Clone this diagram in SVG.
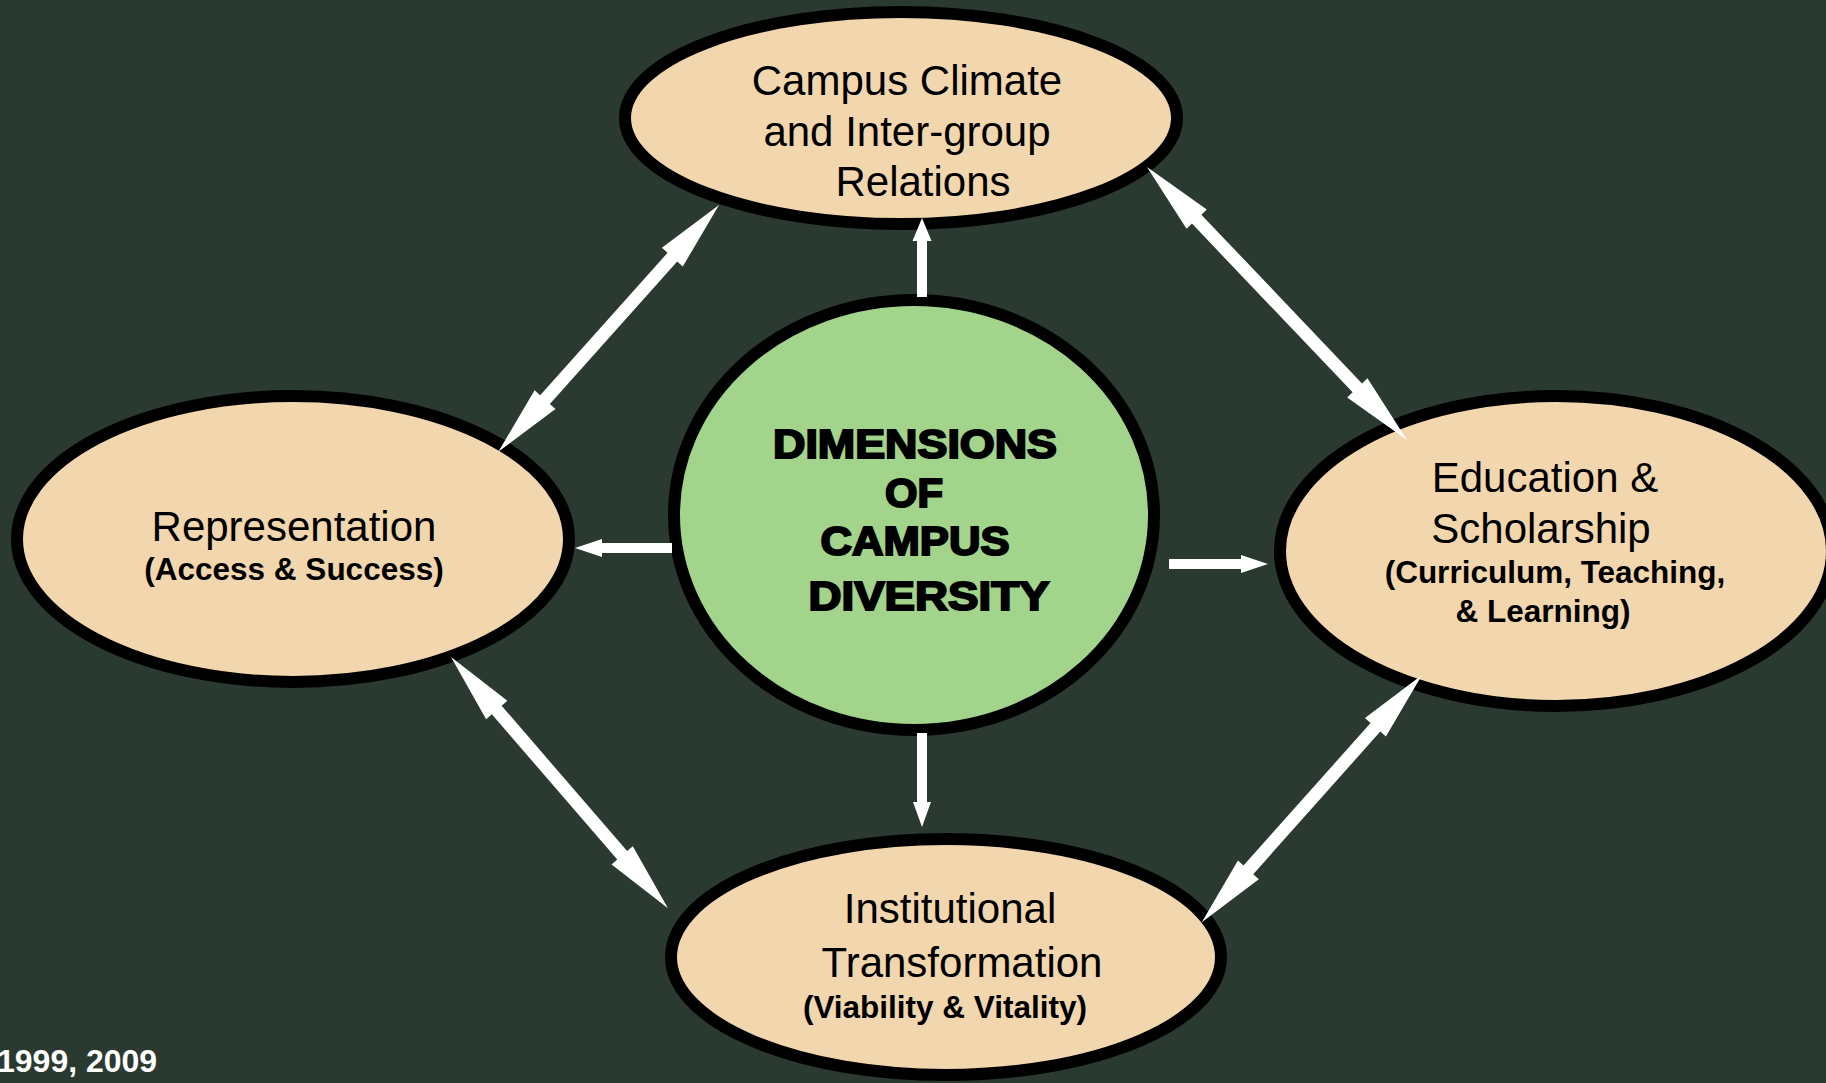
<svg xmlns="http://www.w3.org/2000/svg" width="1826" height="1083" viewBox="0 0 1826 1083">
  <style>
    .bg { fill: #2b3a31; }
    .dim { fill: #f2d6ae; stroke: #000; stroke-width: 12; }
    .core { fill: #a2d48c; stroke: #000; stroke-width: 12; }
    .lbl { font-family: "Liberation Sans", Arial, sans-serif; font-size: 42px; fill: #000; text-anchor: middle; }
    .sub { font-family: "Liberation Sans", Arial, sans-serif; font-size: 31.5px; font-weight: bold; fill: #000; text-anchor: middle; }
    .title { font-family: "Liberation Sans", Arial, sans-serif; font-size: 40px; font-weight: bold; fill: #000; stroke: #000; stroke-width: 2; text-anchor: middle; }
    .arrow { fill: #fff; }
    .note { font-family: "Liberation Sans", Arial, sans-serif; font-size: 32px; font-weight: bold; fill: #fff; }
  </style>

  <rect class="bg" x="0" y="0" width="1826" height="1083"/>

  <!-- Outer dimensions -->
  <g id="node-climate">
    <ellipse class="dim" cx="901" cy="118" rx="276" ry="106"/>
    <text class="lbl" x="907" y="95">Campus Climate</text>
    <text class="lbl" x="907" y="146">and Inter-group</text>
    <text class="lbl" x="923" y="196">Relations</text>
  </g>

  <g id="node-representation">
    <ellipse class="dim" cx="293" cy="539" rx="276" ry="143"/>
    <text class="lbl" x="294" y="541">Representation</text>
    <text class="sub" x="294" y="580">(Access &amp; Success)</text>
  </g>

  <g id="node-education">
    <ellipse class="dim" cx="1556" cy="551" rx="276" ry="155"/>
    <text class="lbl" x="1545" y="492">Education &amp;</text>
    <text class="lbl" x="1541" y="543">Scholarship</text>
    <text class="sub" x="1555" y="583">(Curriculum, Teaching,</text>
    <text class="sub" x="1543" y="622">&amp; Learning)</text>
  </g>

  <g id="node-institutional">
    <ellipse class="dim" cx="946" cy="957" rx="275" ry="118"/>
    <text class="lbl" x="950" y="923">Institutional</text>
    <text class="lbl" x="962" y="977">Transformation</text>
    <text class="sub" x="945" y="1018">(Viability &amp; Vitality)</text>
  </g>

  <!-- Central dimension -->
  <g id="node-core">
    <ellipse class="core" cx="914" cy="515" rx="240" ry="215"/>
    <text class="title" x="915" y="458" textLength="284" lengthAdjust="spacingAndGlyphs">DIMENSIONS</text>
    <text class="title" x="914" y="507" textLength="58" lengthAdjust="spacingAndGlyphs">OF</text>
    <text class="title" x="915" y="555" textLength="189" lengthAdjust="spacingAndGlyphs">CAMPUS</text>
    <text class="title" x="929" y="610" textLength="241" lengthAdjust="spacingAndGlyphs">DIVERSITY</text>
  </g>

  <!-- Connectors -->
  <g id="connectors">
    <!-- centre to each dimension -->
    <polygon class="arrow" points="922,218 931.5,241 927,241 927,297 917,297 917,241 912.5,241"/>
    <polygon class="arrow" points="922,827 931,802 927,802 927,733 917,733 917,802 913,802"/>
    <polygon class="arrow" points="575,548 602,539 602,543 672,543 672,553 602,553 602,557"/>
    <polygon class="arrow" points="1268,564 1241,555 1241,559 1169,559 1169,569 1241,569 1241,573"/>

    <!-- links between neighbouring dimensions -->
    <polygon class="arrow" transform="translate(719,205) rotate(131.8)" points="0,0 70,-14 70,-6.5 261,-6.5 261,-14 331,0 261,14 261,6.5 70,6.5 70,14"/>
    <polygon class="arrow" transform="translate(1147,167) rotate(46.4)" points="0,0 72,-14 72,-6.5 305,-6.5 305,-14 377,0 305,14 305,6.5 72,6.5 72,14"/>
    <polygon class="arrow" transform="translate(451,657) rotate(49.2)" points="0,0 70,-14 70,-6.5 262,-6.5 262,-14 332,0 262,14 262,6.5 70,6.5 70,14"/>
    <polygon class="arrow" transform="translate(1422,675) rotate(131.7)" points="0,0 70,-14 70,-6.5 261,-6.5 261,-14 331,0 261,14 261,6.5 70,6.5 70,14"/>
  </g>

  <text class="note" x="-3" y="1072">1999, 2009</text>
</svg>
